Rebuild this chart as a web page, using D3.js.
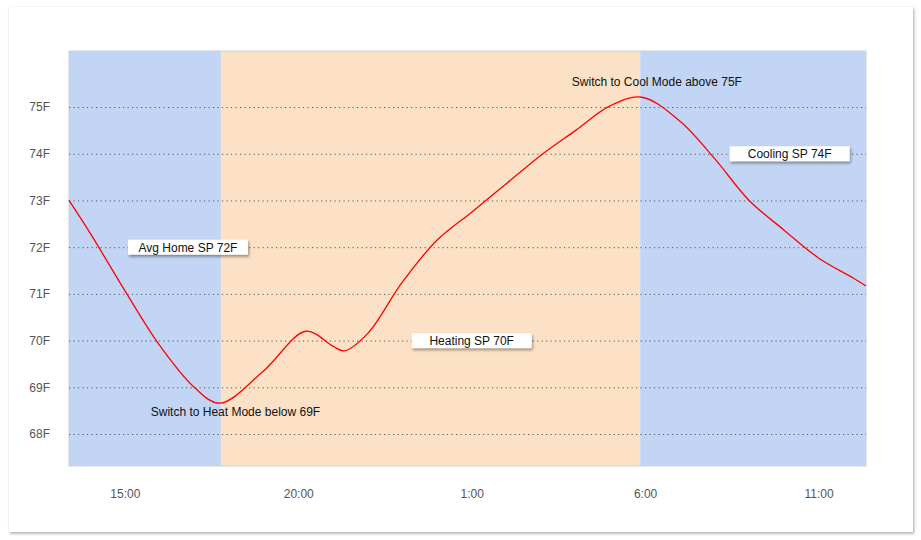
<!DOCTYPE html>
<html>
<head>
<meta charset="utf-8">
<script src="https://cdnjs.cloudflare.com/ajax/libs/d3/7.8.5/d3.min.js"></script>
<style>
  body { margin: 0; background: #fff; }
  svg { display: block; font-family: Arial, "Liberation Sans", sans-serif; }
</style>
</head>
<body>
<svg id="svg" width="921" height="540"></svg>
<script>
// hours counted from midnight of the first day (25 = 1:00 next day)
const hours = [13.39, 14, 15, 16, 17, 17.74, 19, 20.22, 21, 21.32, 22, 23, 24, 25, 26, 27, 28, 29, 29.91, 31, 32, 33, 34, 35, 36, 36.37];
const temps = [73.0, 72.3, 71.07, 69.9, 69.0, 68.66, 69.35, 70.2, 69.88, 69.78, 70.15, 71.25, 72.15, 72.75, 73.36, 73.97, 74.5, 75.03, 75.21, 74.7, 73.9, 73.0, 72.37, 71.77, 71.34, 71.17];

// HVAC mode bands
const bandStart = [13.39, 17.77, 29.86];
const bandEnd = [17.77, 29.86, 36.37];
const bandMode = ['cool', 'heat', 'cool'];

const yTicks = [68, 69, 70, 71, 72, 73, 74, 75];
const xTicks = [15, 20, 25, 30, 35];

// boxed setpoint labels
const boxText = ['Avg Home SP 72F', 'Heating SP 70F', 'Cooling SP 74F'];
const boxHour = [16.82, 25.0, 34.17];
const boxTemp = [72, 70, 74];

// plain notes
const noteText = ['Switch to Heat Mode below 69F', 'Switch to Cool Mode above 75F'];
const noteHour = [18.19, 30.34];
const noteTemp = [68.47, 75.54];

const plot = {left: 69, right: 866, top: 51, bottom: 466};
const colors = {cool: '#c3d5f4', heat: '#fce1c6'};

const svg = d3.select('#svg');

const defs = svg.append('defs');
defs.append('filter').attr('id', 'cardShadow')
  .attr('x', '-5%').attr('y', '-5%').attr('width', '110%').attr('height', '110%')
  .append('feDropShadow')
  .attr('dx', 1).attr('dy', 1.5).attr('stdDeviation', 1.5)
  .attr('flood-color', '#000').attr('flood-opacity', 0.35);
defs.append('filter').attr('id', 'boxShadow')
  .attr('x', '-20%').attr('y', '-50%').attr('width', '140%').attr('height', '220%')
  .append('feDropShadow')
  .attr('dx', 1).attr('dy', 2).attr('stdDeviation', 1.5)
  .attr('flood-color', '#000').attr('flood-opacity', 0.4);

// card
svg.append('rect')
  .attr('x', 9).attr('y', 7)
  .attr('width', 904).attr('height', 525)
  .attr('fill', '#fff')
  .attr('filter', 'url(#cardShadow)');

const xScale = d3.scaleLinear()
  .domain([13.39, 36.37])
  .range([plot.left, plot.right]);

const yScale = d3.scaleLinear()
  .domain([67.315, 76.2])
  .range([plot.bottom, plot.top]);

// background bands
svg.append('g').selectAll('rect')
  .data(bandMode)
  .enter()
  .append('rect')
  .attr('x', (d, i) => xScale(bandStart[i]))
  .attr('y', plot.top)
  .attr('width', (d, i) => xScale(bandEnd[i]) - xScale(bandStart[i]))
  .attr('height', plot.bottom - plot.top)
  .attr('fill', d => colors[d]);

svg.append('rect')
  .attr('x', plot.left).attr('y', plot.top)
  .attr('width', plot.right - plot.left).attr('height', plot.bottom - plot.top)
  .attr('fill', 'none')
  .attr('stroke', '#d0d0d0')
  .attr('stroke-width', 1);

// y axis + dotted grid
const yAxis = d3.axisLeft(yScale)
  .tickValues(yTicks)
  .tickSize(-(plot.right - plot.left))
  .tickPadding(19)
  .tickFormat(d => d + 'F');

const yG = svg.append('g')
  .attr('transform', `translate(${plot.left},0)`)
  .call(yAxis);
yG.select('.domain').remove();
yG.selectAll('.tick line')
  .attr('stroke', '#555')
  .attr('stroke-dasharray', '1.2,3.3');
yG.selectAll('.tick text')
  .attr('fill', '#555')
  .style('font-size', '12px');

// x axis
const xAxis = d3.axisBottom(xScale)
  .tickValues(xTicks)
  .tickSize(0)
  .tickPadding(23)
  .tickFormat(d => (d % 24) + ':00');

const xG = svg.append('g')
  .attr('transform', `translate(0,${plot.bottom})`)
  .call(xAxis);
xG.select('.domain').remove();
xG.selectAll('.tick text')
  .attr('fill', '#555')
  .style('font-size', '12px');

// temperature line
const line = d3.line()
  .x((d, i) => xScale(hours[i]))
  .y(d => yScale(d))
  .curve(d3.curveCatmullRom.alpha(0.5));

svg.append('path')
  .datum(temps)
  .attr('d', line)
  .attr('fill', 'none')
  .attr('stroke', '#ff0000')
  .attr('stroke-width', 1.3);

// setpoint boxes
const boxW = 120, boxH = 15;
const boxG = svg.append('g').selectAll('g')
  .data(boxText)
  .enter()
  .append('g')
  .attr('transform', (d, i) => `translate(${xScale(boxHour[i])},${yScale(boxTemp[i])})`);

boxG.append('rect')
  .attr('x', -boxW / 2).attr('y', -boxH / 2)
  .attr('width', boxW).attr('height', boxH)
  .attr('fill', '#fff')
  .attr('filter', 'url(#boxShadow)');

boxG.append('text')
  .attr('text-anchor', 'middle')
  .attr('dy', '0.36em')
  .style('font-size', '12px')
  .attr('fill', '#111')
  .text(d => d);

// notes
svg.append('g').selectAll('text')
  .data(noteText)
  .enter()
  .append('text')
  .attr('x', (d, i) => xScale(noteHour[i]))
  .attr('y', (d, i) => yScale(noteTemp[i]))
  .attr('dy', '0.36em')
  .attr('text-anchor', 'middle')
  .style('font-size', '12px')
  .attr('fill', '#111')
  .text(d => d);
</script>
</body>
</html>
